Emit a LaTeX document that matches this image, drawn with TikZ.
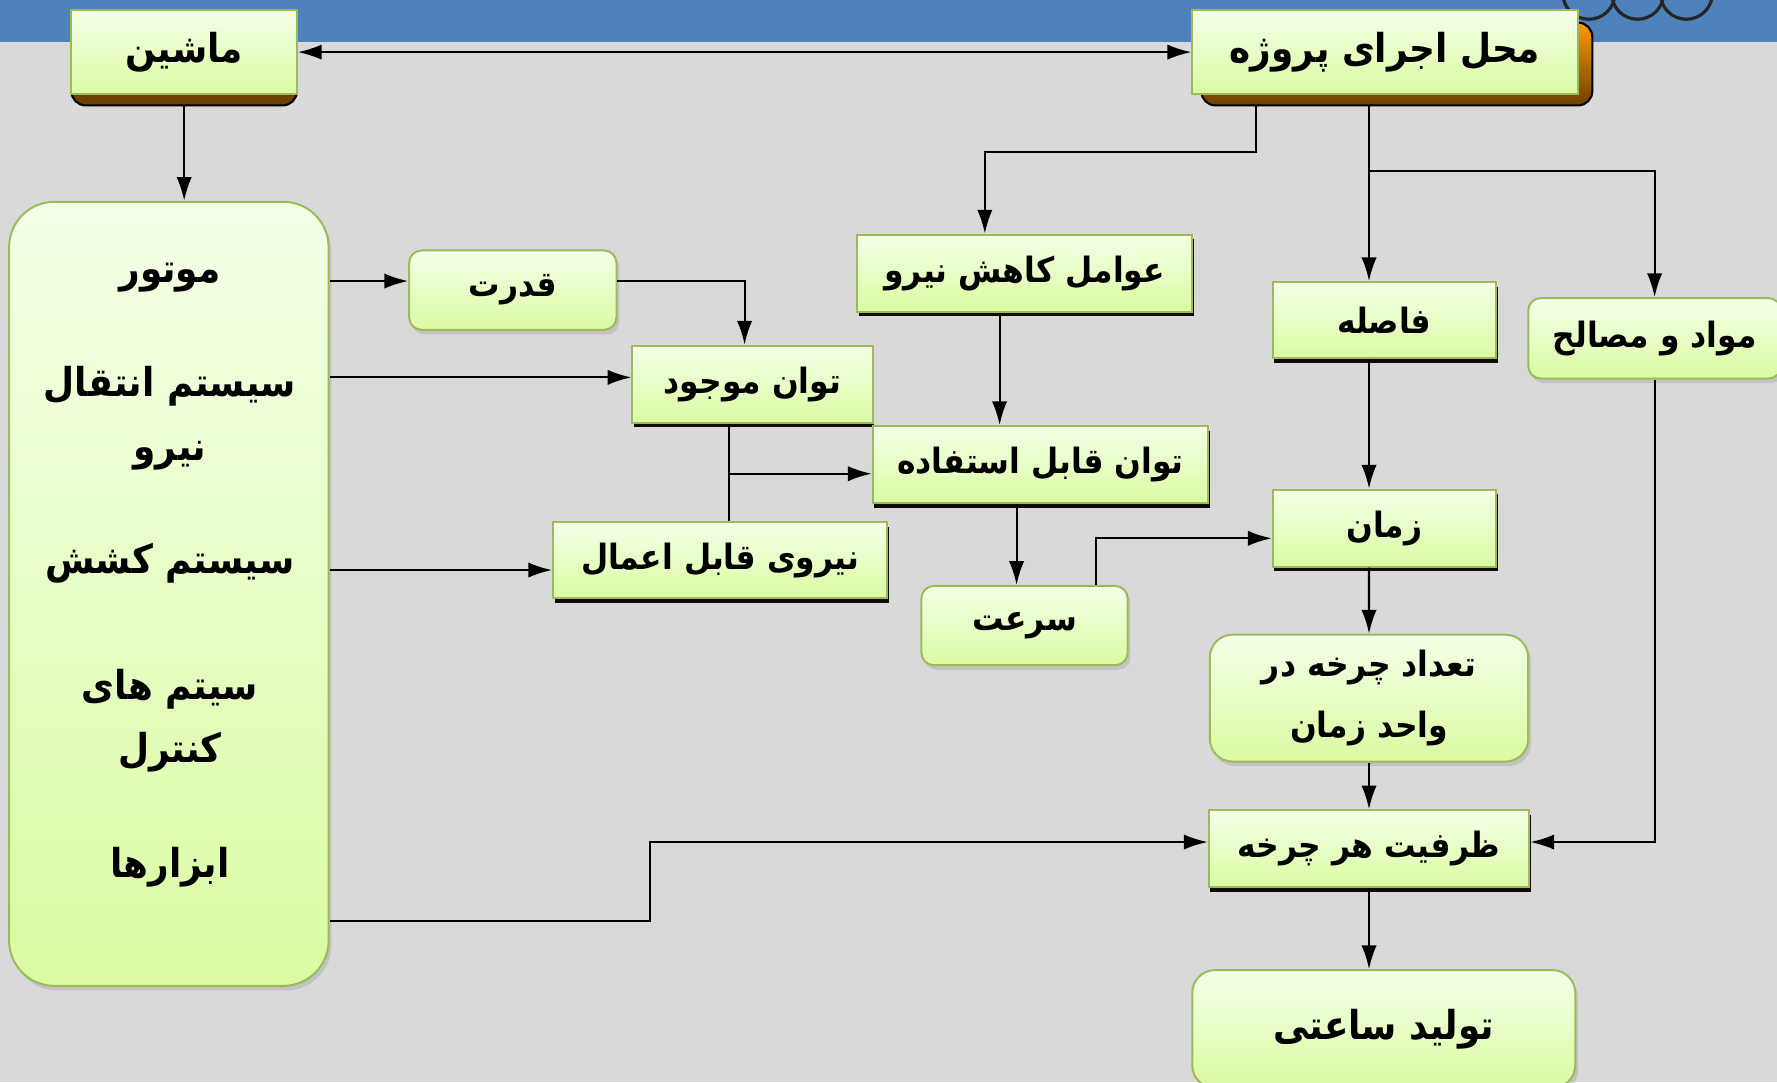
\documentclass[tikz,border=0pt]{standalone}
\usepackage{fontspec}
\newfontfamily\arabicfont[Script=Arabic, FakeStretch=0.9]{DejaVu Sans}
\TeXXeTstate=1
\usetikzlibrary{arrows.meta, shadows}

\definecolor{slidebg}{HTML}{D9D9D9}
\definecolor{slidebar}{HTML}{4F81BD}
\definecolor{boxtop}{HTML}{F4FFE8}
\definecolor{boxbot}{HTML}{DAFBA2}
\definecolor{boxline}{HTML}{9BBB59}
\definecolor{darkbrown}{HTML}{6B4000}
\definecolor{orangeshade}{HTML}{FF9A00}

\newcommand{\fatext}[1]{\beginR #1\endR}

\tikzset{
  box/.style = {draw=boxline, line width=1pt, top color=boxtop, bottom color=boxbot,
    font=\arabicfont\bfseries\fontsize{17.5}{31}\selectfont, inner sep=0pt, align=center},
  bigtext/.style = {font=\arabicfont\bfseries\fontsize{20}{32}\selectfont},
  flatbox/.style = {box, drop shadow={shadow xshift=0.03cm, shadow yshift=-0.08cm, opacity=1, fill=black!85!darkbrown}},
  roundbox/.style = {box, rounded corners=0.22cm, drop shadow={shadow xshift=0.05cm, shadow yshift=-0.08cm, opacity=0.25}},
  item/.style = {bigtext, inner sep=0pt, align=center},
}

\begin{document}
\begin{tikzpicture}[x=0.02cm, y=-0.02cm, >={Latex[length=0.42cm,width=0.27cm]}, line width=1.05pt]
	\useasboundingbox (0,0) rectangle (1568,955);
	% slide background
	\fill [slidebg] (0,0) rectangle (1568,955);
	\fill [slidebar] (0,0) rectangle (1568,37);
	\draw [black!85, line width=1.6pt] (1402,-6) circle [radius=0.46cm] (1445,-6) circle [radius=0.46cm] (1488,-6) circle [radius=0.46cm];
	% 3d bottoms of the two top boxes
	\filldraw [fill=darkbrown, draw=black, rounded corners=0.25cm] (63,40) rectangle (262,93);
	\shadedraw [top color=orangeshade, bottom color=darkbrown, draw=black, rounded corners=0.25cm] (1060,20) rectangle (1405,93);

	% boxes
	\node [box, bigtext, minimum width=3.98cm, minimum height=1.48cm] (mashin) at (162.5,46) {\fatext{ماشین}};
	\node [box, bigtext, minimum width=6.8cm, minimum height=1.48cm] (mahal) at (1222,46) {\fatext{محل اجرای پروژه}};
	\node [roundbox, rounded corners=0.8cm, minimum width=5.64cm, minimum height=13.84cm] (parts) at (149,524) {};
	\node [item] (motor) at (150,245) {\fatext{موتور}};
	\node [item] (enteghal) at (150,369) {\fatext{سیستم انتقال}\\\fatext{نیرو}};
	\node [item] (keshesh) at (150,497) {\fatext{سیستم کشش}};
	\node [item] (control) at (150,636) {\fatext{سیتم های}\\\fatext{کنترل}};
	\node [item] (abzar) at (150,765) {\fatext{ابزارها}};

	\node [roundbox, minimum width=3.66cm, minimum height=1.4cm] (ghodrat) at (452.5,256) {\fatext{قدرت}};
	\node [flatbox, minimum width=4.24cm, minimum height=1.36cm] (mojud) at (664,339) {\fatext{توان موجود}};
	\node [flatbox, minimum width=5.9cm, minimum height=1.34cm] (niroo) at (635.5,494.5) {\fatext{نیروی قابل اعمال}};
	\node [flatbox, minimum width=5.92cm, minimum height=1.36cm] (avamel) at (904,241) {\fatext{عوامل کاهش نیرو}};
	\node [flatbox, minimum width=5.92cm, minimum height=1.36cm] (estefade) at (918,410) {\fatext{توان قابل استفاده}};
	\node [roundbox, minimum width=3.64cm, minimum height=1.4cm] (sorat) at (904,552) {\fatext{سرعت}};
	\node [flatbox, minimum width=3.94cm, minimum height=1.34cm] (fasele) at (1221.5,282.5) {\fatext{فاصله}};
	\node [roundbox, minimum width=4.46cm, minimum height=1.42cm] (mavad) at (1460,298.5) {\fatext{مواد و مصالح}};
	\node [flatbox, minimum width=3.94cm, minimum height=1.36cm] (zaman) at (1221.5,466) {\fatext{زمان}};
	\node [roundbox, rounded corners=0.4cm, minimum width=5.62cm, minimum height=2.24cm] (tedad) at (1208,616) {\fatext{تعداد چرخه در}\\\fatext{واحد زمان}};
	\node [flatbox, minimum width=5.66cm, minimum height=1.36cm] (zarfiat) at (1208,749) {\fatext{ظرفیت هر چرخه}};
	\node [roundbox, bigtext, rounded corners=0.4cm, minimum width=6.76cm, minimum height=2.08cm] (tolid) at (1221,908) {\fatext{تولید ساعتی}};

	% connectors
	\coordinate (trunk) at ([xshift=-0.28cm,yshift=-0.2cm]mahal.south);
	\draw [<->] (mashin.east) -- (mahal.west);
	\draw [->] ([yshift=-0.2cm]mashin.south) -- (parts.north -| mashin.south);
	\draw [->] ([xshift=-2.28cm,yshift=-0.2cm]mahal.south) |- ([xshift=-0.7cm,yshift=1.44cm]avamel.north) -- ([xshift=-0.7cm]avamel.north);
	\draw [->] (trunk) -- (trunk |- fasele.north);
	\draw [->] ([yshift=-1.14cm]trunk) -| (mavad.north);
	\coordinate (g1) at ([yshift=0.16cm]ghodrat.west);
	\draw [->] (parts.east |- g1) -- (g1);
	\draw [->] (ghodrat.east |- g1) -| ([xshift=-0.14cm]mojud.north);
	\coordinate (m1) at ([yshift=0.12cm]mojud.west);
	\draw [->] (parts.east |- m1) -- (m1);
	\coordinate (n1) at ([yshift=-0.17cm]niroo.west);
	\draw [->] (parts.east |- n1) -- (n1);
	\coordinate (m2) at ([xshift=-0.42cm]mojud.south);
	\draw (m2) -- (m2 |- niroo.north);
	\coordinate (e1) at ([yshift=-0.16cm]estefade.west);
	\draw [->] (m2 |- e1) -- (e1);
	\draw [->] ([xshift=-0.44cm]avamel.south) -- ([xshift=-0.44cm]avamel.south |- estefade.north);
	\draw [->] ([xshift=-0.42cm]estefade.south) -- ([xshift=-0.42cm]estefade.south |- sorat.north);
	\draw [->] ([xshift=1.26cm]sorat.north) |- ([yshift=-0.18cm]zaman.west);
	\draw [->] (trunk |- fasele.south) -- (trunk |- zaman.north);
	\draw [->] (trunk |- zaman.south) -- (tedad.north);
	\draw [->] (tedad.south) -- (zarfiat.north);
	\draw [->] ([yshift=-5.78cm]parts.east) -- ++(5.66cm,0) |- ([yshift=0.12cm]zarfiat.west);
	\draw [->] (mavad.south) |- ([yshift=0.12cm]zarfiat.east);
	\draw [->] (zarfiat.south) -- (zarfiat.south |- tolid.north);
\end{tikzpicture}
\end{document}
